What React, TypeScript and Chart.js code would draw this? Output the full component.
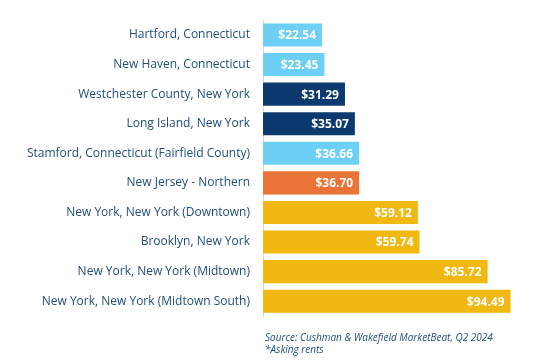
import React, { useEffect, useRef } from "react";
import { Chart, registerables } from "chart.js";

Chart.register(...registerables);

const categories = [
  "Hartford, Connecticut",
  "New Haven, Connecticut",
  "Westchester County, New York",
  "Long Island, New York",
  "Stamford, Connecticut (Fairfield County)",
  "New Jersey - Northern",
  "New York, New York (Downtown)",
  "Brooklyn, New York",
  "New York, New York (Midtown)",
  "New York, New York (Midtown South)",
];
const rents = [22.54, 23.45, 31.29, 35.07, 36.66, 36.7, 59.12, 59.74, 85.72, 94.49];
const barColors = [
  "#6ccff6", "#6ccff6", "#0d3a6e", "#0d3a6e", "#6ccff6",
  "#ea7437", "#f1b811", "#f1b811", "#f1b811", "#f1b811",
];
const footnotes = ["Source: Cushman & Wakefield MarketBeat, Q2 2024", "*Asking rents"];

const valueLabels = {
  id: "valueLabels",
  afterDatasetsDraw(chart: any) {
    const ctx = chart.ctx;
    const meta = chart.getDatasetMeta(0);
    ctx.save();
    ctx.fillStyle = "#ffffff";
    ctx.font = "bold 12px 'Open Sans'";
    ctx.textAlign = "right";
    ctx.textBaseline = "middle";
    meta.data.forEach((bar: any, i: number) => {
      ctx.fillText("$" + rents[i].toFixed(2), bar.x - 6, bar.y + 1);
    });
    ctx.restore();
  },
};

const footer = {
  id: "footer",
  afterDraw(chart: any) {
    const ctx = chart.ctx;
    const left = chart.chartArea.left;
    const bottom = chart.chartArea.bottom;
    ctx.save();
    ctx.fillStyle = "#1f4e79";
    ctx.font = "italic 10px 'Open Sans'";
    ctx.textAlign = "left";
    ctx.textBaseline = "middle";
    ctx.fillText(footnotes[0], left + 2, bottom + 22);
    ctx.fillText(footnotes[1], left + 2, bottom + 34);
    ctx.restore();
  },
};

export default function App() {
  const ref = useRef<HTMLCanvasElement>(null);
  useEffect(() => {
    const chart = new Chart(ref.current!, {
      type: "bar",
      data: {
        labels: categories,
        datasets: [
          {
            data: rents,
            backgroundColor: barColors,
            barPercentage: 0.78,
            categoryPercentage: 1,
          },
        ],
      },
      options: {
        indexAxis: "y",
        animation: false,
        responsive: false,
        layout: { padding: { top: 0, right: 32, bottom: 46, left: 0 } },
        plugins: { legend: { display: false }, tooltip: { enabled: false } },
        scales: {
          x: { display: false, min: 0, max: 100 },
          y: {
            afterFit(scale: any) {
              scale.width = 263;
            },
            grid: { display: false, drawTicks: false },
            border: { display: true, color: "#d9d9d9", width: 1 },
            ticks: {
              color: "#1f4e79",
              font: { family: "'Open Sans'", size: 12 },
              padding: 13,
            },
          },
        },
      },
      plugins: [valueLabels, footer],
    });
    return () => chart.destroy();
  }, []);
  return (
    <div style={{ position: "absolute", left: 0, top: 0, width: 557, height: 362, background: "#fff" }}>
      <canvas ref={ref} width={557} height={362} style={{ width: 557, height: 362 }} />
    </div>
  );
}
